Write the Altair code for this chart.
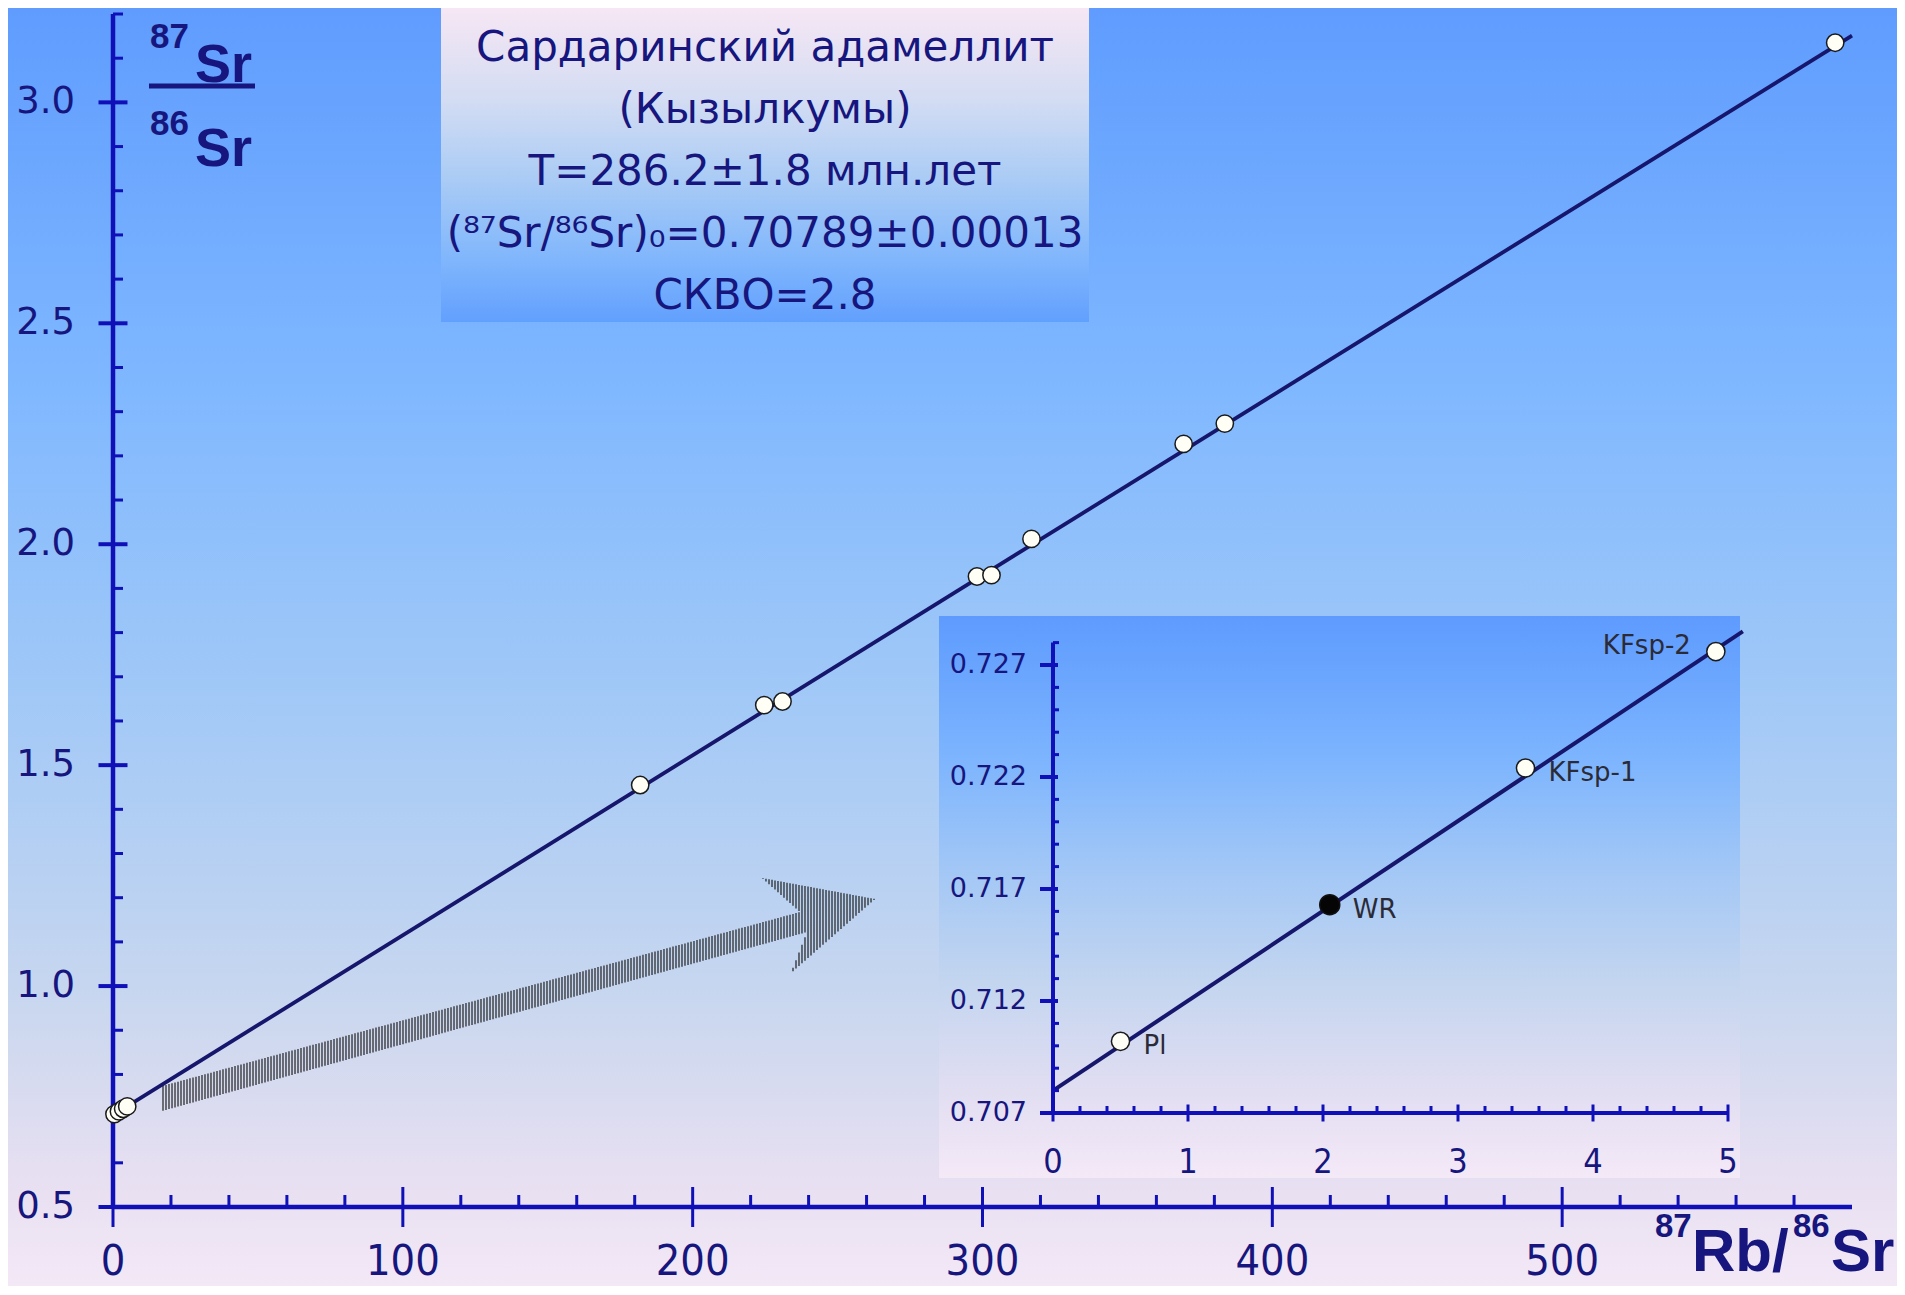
import altair as alt
import pandas as pd

# ---------------- values ----------------
main_rb = [0.50, 2.05, 3.50, 4.91, 181.9, 224.7, 231.0, 298.1, 303.1, 316.9, 369.4, 383.6, 594.2]
main_sr = [0.7102, 0.7163, 0.7224, 0.7276, 1.455, 1.636, 1.644, 1.927, 1.930, 2.012, 2.227, 2.273, 3.135]
main_fit_rb = [0, 600]
main_fit_sr = [0.708, 3.151]

inset_names = ["Pl", "WR", "KFsp-1", "KFsp-2"]
inset_rb = [0.50, 2.05, 3.50, 4.91]
inset_sr = [0.7102, 0.7163, 0.7224, 0.7276]
inset_fill = ["open", "filled", "open", "open"]
inset_fit_rb = [0, 5.11]
inset_fit_sr = [0.7080, 0.7285]

main_x_extent = [0, 600]
main_y_extent = [0.5, 3.2]
main_x_ticks = [0, 100, 200, 300, 400, 500]
main_x_labels = ["0", "100", "200", "300", "400", "500"]
main_y_ticks = [0.5, 1.0, 1.5, 2.0, 2.5, 3.0]
main_y_labels = ["0.5", "1.0", "1.5", "2.0", "2.5", "3.0"]
main_x_minor = [v for v in range(20, 600, 20) if v % 100 != 0]
main_y_minor = [round(v / 10, 1) for v in range(6, 33) if v % 5 != 0]

inset_x_extent = [0, 5]
inset_y_extent = [0.707, 0.728]
inset_x_ticks = [0, 1, 2, 3, 4, 5]
inset_x_labels = ["0", "1", "2", "3", "4", "5"]
inset_y_ticks = [0.707, 0.712, 0.717, 0.722, 0.727]
inset_y_labels = ["0.707", "0.712", "0.717", "0.722", "0.727"]
inset_x_minor = [round(v / 5, 1) for v in range(1, 25) if v % 5 != 0]
inset_y_minor = [round(v / 1000, 3) for v in range(708, 729) if (v - 707) % 5 != 0]

title_lines = [
    "Сардаринский адамеллит",
    "(Кызылкумы)",
    "Т=286.2±1.8 млн.лет",
    "(⁸⁷Sr/⁸⁶Sr)₀=0.70789±0.00013",
    "СКВО=2.8",
]

# ---------------- styling / layout ----------------
W, H = 1739, 1193
PAD = {"left": 105, "top": 6, "right": 45, "bottom": 79}
AXIS = "#1010b8"
LINE = "#16166c"
TEXT = "#16167e"
SANS = "DejaVu Sans"
ARIAL = "Liberation Sans"
NARROW = "Liberation Sans Narrow, DejaVu Sans Condensed, sans-serif"

MX = alt.Scale(domain=main_x_extent, range=[0, W], nice=False, zero=False)
MY = alt.Scale(domain=main_y_extent, range=[H, 0], nice=False, zero=False)
IX = alt.Scale(domain=[inset_x_ticks[0], inset_x_ticks[-1]], range=[940, 1615], nice=False, zero=False)
IY = alt.Scale(domain=[inset_y_ticks[0], inset_y_ticks[-1]], range=[1099, 651], nice=False, zero=False)

one = pd.DataFrame({"k": [0]})


def xy(xs, ys, xf="x", yf="y"):
    return {"x": alt.X(f"{xf}:Q", scale=xs, axis=None),
            "y": alt.Y(f"{yf}:Q", scale=ys, axis=None)}


def grad(stops):
    return alt.Gradient(gradient="linear",
                        stops=[alt.GradientStop(color=c, offset=o) for o, c in stops],
                        x1=0, x2=0, y1=0, y2=1)


def panel(x0, x1, y0, y1, stops):
    return alt.Chart(one).mark_rect(fill=grad(stops)).encode(
        x=alt.value(x0), x2=alt.value(x1), y=alt.value(y0), y2=alt.value(y1))


def ticks(vals, const, along, xs, ys, shape, length, width):
    if along == "x":
        df = pd.DataFrame({"x": vals, "y": [const] * len(vals)})
    else:
        df = pd.DataFrame({"x": [const] * len(vals), "y": vals})
    return alt.Chart(df).mark_point(shape=shape, size=length ** 2, filled=False,
                                    stroke=AXIS, strokeWidth=width, opacity=1).encode(**xy(xs, ys))


def hline(x0, x1, y, xs, ys, width):
    df = pd.DataFrame({"x": [x0], "x2": [x1], "y": [y]})
    return alt.Chart(df).mark_rule(color=AXIS, strokeWidth=width).encode(
        **xy(xs, ys), x2=alt.X2("x2:Q"))


def vline(x, y0, y1, xs, ys, width):
    df = pd.DataFrame({"x": [x], "y": [y0], "y2": [y1]})
    return alt.Chart(df).mark_rule(color=AXIS, strokeWidth=width).encode(
        **xy(xs, ys), y2=alt.Y2("y2:Q"))


def text(t, x, y, size, weight="bold", font=ARIAL, align="left", color=TEXT,
         baseline="alphabetic", **kw):
    return alt.Chart(one).mark_text(text=t, fontSize=size, fontWeight=weight, font=font,
                                    align=align, baseline=baseline, color=color, **kw).encode(
        x=alt.value(x), y=alt.value(y))


def arrow_shape():
    # hatched arrow outline (page pixels) filled with vertical stripes
    poly = [(162, 1086), (800, 912), (762, 878), (875, 899), (791, 973), (807, 932), (162, 1111)]
    cx, cy, h = 518.5, 994.5, 356.5
    segs = []
    x = 163.0
    n = len(poly)
    while x < 875:
        ys = []
        for i in range(n):
            (x1, y1), (x2, y2) = poly[i], poly[(i + 1) % n]
            if x1 == x2:
                continue
            if (x1 <= x < x2) or (x2 <= x < x1):
                t = (x - x1) / (x2 - x1)
                ys.append(y1 + t * (y2 - y1))
        ys.sort()
        for a, b in zip(ys[0::2], ys[1::2]):
            px = (x - cx) / h
            segs.append(f"M{px:.4f},{(a - cy) / h:.4f}L{px:.4f},{(b - cy) / h:.4f}")
        x += 3.0
    return "".join(segs), cx - 113, cy - 14, (2 * h) ** 2


layers = []

# background and panels
layers.append(panel(-PAD["left"], W + PAD["right"], -PAD["top"], H + PAD["bottom"], [
    (0, "#5f9cfe"), (0.30, "#80b8ff"), (0.53, "#a0c8f7"), (0.78, "#c9d7ef"),
    (0.91, "#e6dff1"), (1, "#f3e8f6")]))
layers.append(panel(328, 976, -6, 308, [
    (0, "#f6e7f4"), (0.3, "#d2dcf3"), (0.55, "#a9cbf5"), (0.8, "#80b6fc"), (1, "#62a0fe")]))
layers.append(panel(826, 1627, 602, 1164, [
    (0, "#5e9bfe"), (0.25, "#7cb4fe"), (0.45, "#a2c7f6"), (0.65, "#c3d5ef"),
    (0.85, "#e2def2"), (1, "#f4e9f7")]))

# hatched arrow
path, ax, ay, asz = arrow_shape()
layers.append(alt.Chart(one).mark_point(shape=path, size=asz, filled=False, stroke="#1c1c1c",
                                        strokeWidth=1.3, opacity=0.9).encode(
    x=alt.value(ax), y=alt.value(ay)))

# ---- main plot ----
fit_df = pd.DataFrame({"x": main_fit_rb, "y": main_fit_sr})
layers.append(alt.Chart(fit_df).mark_line(color=LINE, strokeWidth=3.8).encode(**xy(MX, MY)))

layers.append(hline(main_x_extent[0], main_x_extent[1], main_y_extent[0], MX, MY, 4.5))
layers.append(vline(main_x_extent[0], main_y_extent[0], main_y_extent[1], MX, MY, 4.5))
layers.append(ticks(main_x_ticks, main_y_extent[0], "x", MX, MY, "M0,-1L0,1", 40, 3))
layers.append(ticks(main_x_minor, main_y_extent[0], "x", MX, MY, "M0,0L0,-2", 12, 3))
layers.append(ticks(main_y_ticks, main_x_extent[0], "y", MX, MY, "M-1,0L1,0", 29, 4))
layers.append(ticks(main_y_minor, main_x_extent[0], "y", MX, MY, "M0,0L2,0", 10, 3))

main_df = pd.DataFrame({"x": main_rb, "y": main_sr})
layers.append(alt.Chart(main_df).mark_circle(size=300, color="#fffff6", opacity=1,
                                             stroke="#1a1a1a", strokeWidth=1.5).encode(**xy(MX, MY)))

ylab = pd.DataFrame({"x": [main_x_extent[0]] * len(main_y_ticks), "y": main_y_ticks, "t": main_y_labels})
layers.append(alt.Chart(ylab).mark_text(align="right", baseline="middle", dx=-38, font=SANS,
                                        fontSize=37, color=TEXT).encode(**xy(MX, MY), text="t:N"))
xlab = pd.DataFrame({"x": main_x_ticks, "y": [main_y_extent[0]] * len(main_x_ticks), "t": main_x_labels})
layers.append(alt.Chart(xlab).mark_text(align="center", baseline="alphabetic", dy=68, font=NARROW,
                                        fontSize=43, color=TEXT).encode(**xy(MX, MY), text="t:N"))

# axis titles
layers.append(text("87", 37, 34, 35))
layers.append(text("Sr", 82, 68, 54))
layers.append(alt.Chart(one).mark_rule(color=TEXT, strokeWidth=5).encode(
    x=alt.value(36), x2=alt.value(142), y=alt.value(72)))
layers.append(text("86", 37, 121, 35))
layers.append(text("Sr", 82, 152, 54))

layers.append(text("87", 1542, 1223, 33))
layers.append(text("Rb/", 1579, 1257, 60))
layers.append(text("86", 1680, 1223, 33))
layers.append(text("Sr", 1718, 1257, 60))

# title block
layers.append(alt.Chart(one).mark_text(text=title_lines, fontSize=42, font=SANS, color=TEXT,
                                       align="center", baseline="alphabetic", lineHeight=62).encode(
    x=alt.value(652), y=alt.value(47)))

# ---- inset ----
ifit = pd.DataFrame({"x": inset_fit_rb, "y": inset_fit_sr})
layers.append(alt.Chart(ifit).mark_line(color=LINE, strokeWidth=4).encode(**xy(IX, IY)))

layers.append(hline(inset_x_extent[0], inset_x_extent[1], inset_y_extent[0], IX, IY, 4))
layers.append(vline(inset_x_extent[0], inset_y_extent[0], inset_y_extent[1], IX, IY, 4))
layers.append(ticks(inset_x_ticks, inset_y_extent[0], "x", IX, IY, "M0,-1L0,1", 17, 3))
layers.append(ticks(inset_x_minor, inset_y_extent[0], "x", IX, IY, "M0,0L0,-2", 7, 3))
layers.append(ticks(inset_y_ticks, inset_x_extent[0], "y", IX, IY, "M-2,0L0.77,0", 13, 4))
layers.append(ticks(inset_y_minor, inset_x_extent[0], "y", IX, IY, "M0,0L2,0", 6, 3))

ipts = pd.DataFrame({"x": inset_rb, "y": inset_sr, "name": inset_names, "kind": inset_fill})
layers.append(alt.Chart(ipts).transform_filter(alt.datum.kind == "open").mark_circle(
    size=330, color="#fffff6", opacity=1, stroke="#1a1a1a", strokeWidth=1.5).encode(**xy(IX, IY)))
layers.append(alt.Chart(ipts).transform_filter(alt.datum.kind == "filled").mark_circle(
    size=400, color="#050505", opacity=1, stroke="#111111", strokeWidth=1.5).encode(**xy(IX, IY)))
layers.append(alt.Chart(ipts).transform_filter(alt.datum.name != "KFsp-2").mark_text(
    align="left", baseline="middle", dx=23, dy=5, font=SANS, fontSize=26, color="#2b2b38").encode(
    **xy(IX, IY), text="name:N"))
layers.append(alt.Chart(ipts).transform_filter(alt.datum.name == "KFsp-2").mark_text(
    align="right", baseline="middle", dx=-25, dy=-6, font=SANS, fontSize=26, color="#2b2b38").encode(
    **xy(IX, IY), text="name:N"))

iyl = pd.DataFrame({"x": [inset_x_extent[0]] * len(inset_y_ticks), "y": inset_y_ticks, "t": inset_y_labels})
layers.append(alt.Chart(iyl).mark_text(align="right", baseline="middle", dx=-26, font=SANS,
                                       fontSize=27, color=TEXT).encode(**xy(IX, IY), text="t:N"))
ixl = pd.DataFrame({"x": inset_x_ticks, "y": [inset_y_extent[0]] * len(inset_x_ticks), "t": inset_x_labels})
layers.append(alt.Chart(ixl).mark_text(align="center", baseline="alphabetic", dy=60, font=NARROW,
                                       fontSize=34, color=TEXT).encode(**xy(IX, IY), text="t:N"))

chart = alt.layer(*layers).resolve_scale(x="independent", y="independent").properties(
    width=W, height=H, padding=PAD, autosize=alt.AutoSizeParams(type="none")
).configure_view(stroke=None)

chart.save("out.html", embed_options={"renderer": "svg", "actions": False})
